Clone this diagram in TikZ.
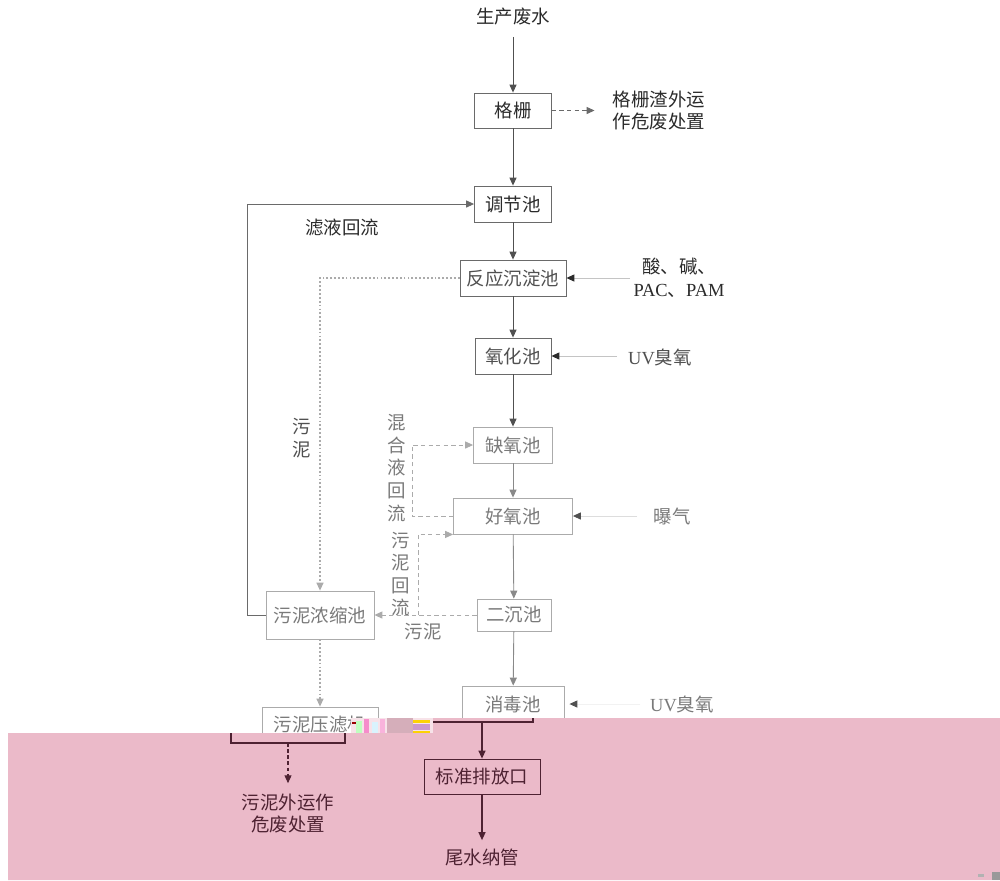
\documentclass[tikz,border=0pt]{standalone}
\usepackage{fontspec}
\setmainfont{Liberation Serif}
\newfontfamily\cjk{Noto Sans CJK SC}
\usetikzlibrary{arrows.meta}
\definecolor{pinkbg}{HTML}{EBBAC9}
\definecolor{maroonc}{HTML}{4E2232}
\definecolor{tA}{HTML}{2B2B2B}
\definecolor{tB}{HTML}{505050}
\definecolor{tC}{HTML}{7A7A7A}
\definecolor{bA}{HTML}{6A6A6A}
\definecolor{bB}{HTML}{ABABAB}
\begin{document}
\begin{tikzpicture}[x=0.02cm,y=-0.02cm,
  lbl/.style={inner sep=0pt,font=\cjk\fontsize{10.5}{13}\selectfont,align=center},
  bx/.style={draw=#1,line width=0.5pt,inner sep=0pt,font=\cjk\fontsize{10.5}{13}\selectfont},
  tipm/.style={-{Triangle[length=4.5pt,width=4pt]}},
  lA/.style={draw=tB,line width=0.5pt},
  lB/.style={draw=bB!80!black,line width=0.5pt},
  lG/.style={draw=bB!70,line width=0.5pt},
  dotl/.style={draw=bB,line width=0.6pt,dash pattern=on 1pt off 1.2pt},
  dshl/.style={draw=bB,line width=0.5pt,dash pattern=on 2.5pt off 1.8pt},
  pl/.style={draw=maroonc,line width=0.6pt},
  pdash/.style={draw=maroonc,line width=0.6pt,dash pattern=on 2pt off 1.5pt}
]
\useasboundingbox (0,0) rectangle (1000,880);
\fill[white] (0,0) rectangle (1000,880);

% ---- main column
\node[lbl,text=tA] (ws) at (513,17) {生产废水};
\node[bx=bA,text=tA,minimum width=1.54cm,minimum height=0.70cm] (gs) at (513,110.5) {格栅};
\node[lbl,text=tA] (gz) at (659,110.5) {格栅渣外运\\作危废处置};
\node[bx=bA,text=tA,minimum width=1.54cm,minimum height=0.72cm] (tj) at (513,204) {调节池};
\node[lbl,text=tA] (lyhl) at (342,227) {滤液回流};
\node[bx=bA,text=tB,minimum width=2.12cm,minimum height=0.72cm] (fy) at (513,278) {反应沉淀池};
\node[lbl,text=tA] (jj) at (679,277.5) {酸、碱、\\{\rmfamily PAC}、{\rmfamily PAM}};
\coordinate (jjs) at (630,278);
\node[bx=bA,text=tB,minimum width=1.52cm,minimum height=0.72cm] (yh) at (513,356) {氧化池};
\node[lbl,text=tB] (uv1) at (660,357) {{\rmfamily UV}臭氧};
\coordinate (uv1s) at (617,356);
\node[lbl,text=tB] (wn1) at (302,438.5) {污\\泥};
\node[bx=bB,text=tC,minimum width=1.58cm,minimum height=0.72cm] (qy) at (513,445) {缺氧池};
\node[bx=bB,text=tC,minimum width=2.38cm,minimum height=0.72cm] (hy) at (513,516) {好氧池};
\node[lbl,text=tC] (aer) at (672,516) {曝气};
\coordinate (aers) at (637,516);
\node[lbl,text=tC] (hhy) at (397,468) {混\\合\\液\\回\\流};
\node[lbl,text=tC,font=\cjk\fontsize{10.5}{12.8}\selectfont] (wnhl) at (401,574) {污\\泥\\回\\流};
\node[bx=bB,text=tC,minimum width=1.48cm,minimum height=0.64cm] (ec) at (514,615) {二沉池};
\node[lbl,text=tC] (wn2) at (423,632) {污泥};
\node[bx=bB,text=tC,minimum width=2.16cm,minimum height=0.96cm] (nz) at (320,615) {污泥浓缩池};
\node[bx=bB,text=tC,minimum width=2.32cm,minimum height=0.72cm] (yl) at (320,725) {污泥压滤机};
\node[bx=bB,text=tC,minimum width=2.04cm,minimum height=0.72cm] (xd) at (513,704) {消毒池};
\node[lbl,text=tC] (uv2) at (682,704) {{\rmfamily UV}臭氧};
\coordinate (uv2s) at (640,704);
\coordinate (br) at (418,615);

% ---- connectors
\draw[lA,tipm,shorten <=0.22cm] (ws.south) -- (gs.north);
\draw[dshl,draw=bA,tipm,shorten >=0.36cm] (gs.east) -- (gz.west |- gs.east);
\draw[lA,tipm] (gs) -- (tj);
\draw[lA,tipm] (tj) -- (fy);
\draw[lA,tipm] (fy) -- (yh);
\draw[lA,tipm] (yh) -- (qy);
\draw[lB,tipm] (qy) -- (hy);
\draw[lB,tipm] (hy) -- (ec);
\draw[lB,tipm] (ec) -- (xd);
\draw[lG,-{Triangle[length=4.5pt,width=4pt,color=tA]}] (jjs) -- (fy.east);
\draw[lG,-{Triangle[length=4.5pt,width=4pt,color=tA]}] (uv1s) -- (yh.east);
\draw[draw=bB!40,line width=0.5pt,-{Triangle[length=4.5pt,width=4pt,color=tB]}] (aers) -- (hy.east);
\draw[draw=bB!15,line width=0.5pt,-{Triangle[length=4.5pt,width=4pt,color=tB]},shorten >=0.1cm] (uv2s) -- (xd.east);
\draw[lA,draw=bA,tipm] (nz.west) -- ++(-18,0) |- (tj.west);
\draw[dotl,tipm] (fy.west) -| (nz.north);
\draw[dotl,tipm] (nz.south) -- (yl.north);
\draw[dshl,tipm] (hy.west) -- ++(-41,0) |- (qy.west);
\draw[dshl,tipm] (ec.west) -- (nz.east);
\draw[dshl,tipm] (br) |- (hy.south west);

% ---- corrupted band
\fill[pinkbg] (8,733) -- (351,733) -- (351,718) -- (1000,718) -- (1000,880) -- (8,880) -- cycle;
\fill[pinkbg!40] (351,718) rectangle (433,733);
\fill[green!25] (356,721) rectangle (362,733);
\fill[magenta!45] (364,719) rectangle (369,733);
\fill[cyan!15] (372,722) rectangle (378,733);
\fill[magenta!30] (380,719) rectangle (385,733);
\fill[pinkbg!80!gray] (387,718) rectangle (413,733);
\fill[yellow!70!orange] (413,720) rectangle (430,723);
\fill[violet!40] (413,724) rectangle (430,730);
\fill[yellow!70!orange] (413,731) rectangle (430,733);
\fill[red!60!black] (352,722) rectangle (356,724);
\fill[gray!60] (978,874) rectangle (984,877);
\fill[gray!80] (992,872) rectangle (1000,880);

% ---- shifted lower part
\coordinate (ylsw) at (231,743);
\coordinate (ylse) at (345,743);
\coordinate (yls) at (288,743);
\draw[pl] (231,733) -- (ylsw) -- (ylse) -- (345,733);
\node[lbl,text=maroonc] (wy) at (288,813.5) {污泥外运作\\危废处置};
\draw[pdash,tipm,shorten >=0.2cm] (yls) -- (wy.north);
\coordinate (xdsw) at (433,722);
\coordinate (xdse) at (533,722);
\coordinate (xds) at (482,722);
\draw[pl] (xdsw) -- (xdse) -- (533,718);
\node[bx=maroonc,text=maroonc,minimum width=2.32cm,minimum height=0.70cm] (bz) at (482,776.5) {标准排放口};
\draw[pl,tipm] (xds) -- (bz.north);
\node[lbl,text=maroonc] (ww) at (482,857) {尾水纳管};
\draw[pl,tipm,shorten >=0.16cm] (bz.south) -- (ww.north);
\end{tikzpicture}
\end{document}
